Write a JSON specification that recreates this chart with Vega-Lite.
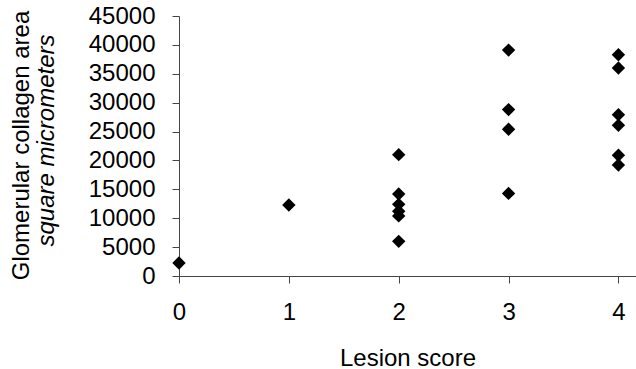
{
  "$schema": "https://vega.github.io/schema/vega-lite/v6.json",
  "width": 457,
  "height": 260,
  "autosize": {"type": "none"},
  "padding": {"left": 179, "top": 16, "right": 0, "bottom": 93},
  "background": "white",
  "config": {
    "view": {"stroke": null},
    "font": "Liberation Sans",
    "axis": {
      "grid": false,
      "domainColor": "#444444",
      "tickColor": "#444444",
      "domainWidth": 1,
      "tickWidth": 1,
      "tickSize": 7,
      "labelPadding": 17,
      "labelFontSize": 24,
      "labelColor": "black",
      "titleFontSize": 24,
      "titleFontWeight": "normal",
      "titleColor": "black"
    }
  },
  "data": {
    "values": [
      {"score": 0, "area": 2250},
      {"score": 1, "area": 12300},
      {"score": 2, "area": 21000},
      {"score": 2, "area": 14200},
      {"score": 2, "area": 12400},
      {"score": 2, "area": 11200},
      {"score": 2, "area": 10400},
      {"score": 2, "area": 6000},
      {"score": 3, "area": 39100},
      {"score": 3, "area": 28800},
      {"score": 3, "area": 25400},
      {"score": 3, "area": 14300},
      {"score": 4, "area": 38300},
      {"score": 4, "area": 36000},
      {"score": 4, "area": 27900},
      {"score": 4, "area": 26100},
      {"score": 4, "area": 20900},
      {"score": 4, "area": 19200}
    ]
  },
  "layer": [
    {
      "mark": {"type": "point", "shape": "diamond", "filled": true, "size": 180, "color": "black", "opacity": 1},
      "encoding": {
        "x": {
          "field": "score",
          "type": "quantitative",
          "scale": {"domain": [0, 4.16], "nice": false, "zero": false},
          "axis": {"values": [0, 1, 2, 3, 4], "format": "d", "title": "Lesion score", "titlePadding": 22, "labelFlush": false}
        },
        "y": {
          "field": "area",
          "type": "quantitative",
          "scale": {"domain": [0, 45000], "nice": false},
          "axis": {
            "values": [0, 5000, 10000, 15000, 20000, 25000, 30000, 35000, 40000, 45000],
            "format": "d",
            "labelFlush": false,
            "title": "square micrometers",
            "titleFontStyle": "italic",
            "titleX": -126,
            "titleY": 124,
            "titleBaseline": "alphabetic",
            "titleAngle": -90,
            "titleAlign": "center"
          }
        }
      }
    },
    {
      "mark": {"type": "point", "opacity": 0},
      "encoding": {
        "x": {"field": "score", "type": "quantitative"},
        "y": {
          "field": "area",
          "type": "quantitative",
          "scale": {"domain": [0, 45000], "nice": false},
          "axis": {
            "orient": "left",
            "labels": false,
            "ticks": false,
            "domain": false,
            "title": "Glomerular collagen area",
            "titleX": -151,
            "titleY": 129,
            "titleBaseline": "alphabetic",
            "titleAngle": -90,
            "titleAlign": "center"
          }
        }
      }
    }
  ],
  "resolve": {"axis": {"y": "independent"}, "scale": {"y": "independent"}}
}
